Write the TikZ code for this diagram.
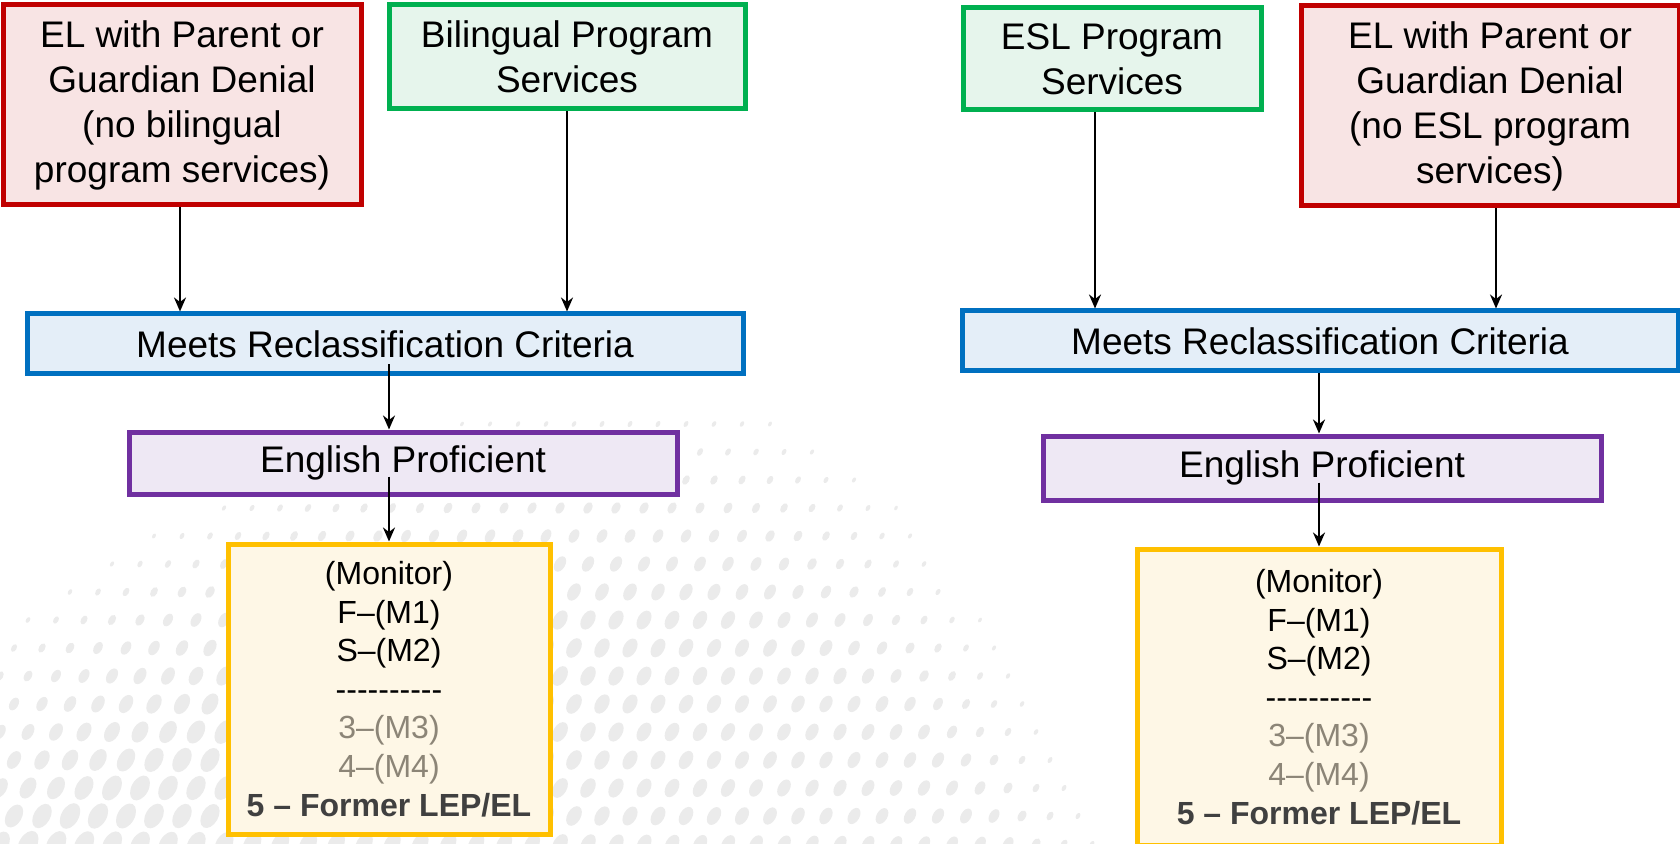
\documentclass[tikz,border=0pt]{standalone}
\usepackage{fontspec}
\setmainfont{Liberation Sans}
\usetikzlibrary{arrows.meta,calc}
\definecolor{redb}{HTML}{C00000}
\definecolor{redf}{HTML}{F8E4E4}
\definecolor{greenb}{HTML}{00B050}
\definecolor{greenf}{HTML}{E6F5EC}
\definecolor{blueb}{HTML}{0070C0}
\definecolor{bluef}{HTML}{E4EEF8}
\definecolor{purpb}{HTML}{7030A0}
\definecolor{purpf}{HTML}{EEE8F4}
\definecolor{goldb}{HTML}{FFC000}
\definecolor{goldf}{HTML}{FEF7E6}
\definecolor{greytxt}{HTML}{8C8577}
\definecolor{darktxt}{HTML}{404040}
\definecolor{dotc}{HTML}{EBEBEB}
\tikzset{
  box/.style={draw, line width=2.5pt, rectangle, inner sep=0pt, align=center,
    font=\fontsize{18.5}{22.5}\selectfont},
  redbox/.style={box, draw=redb, fill=redf},
  greenbox/.style={box, draw=greenb, fill=greenf},
  bluebox/.style={box, draw=blueb, fill=bluef},
  purpbox/.style={box, draw=purpb, fill=purpf},
  goldbox/.style={box, draw=goldb, fill=goldf, font=\fontsize{16}{19.3}\selectfont},
  arr/.style={draw, line width=1.3pt, -{Stealth[length=7pt,width=6pt]}}
}
\newcommand{\monitortext}{(Monitor)\\F–(M1)\\S–(M2)\\-{}-{}-{}-{}-{}-{}-{}-{}-{}-\\{\color{greytxt}3–(M3)}\\{\color{greytxt}4–(M4)}\\{\bfseries\color{darktxt}5 – Former LEP/EL}}
\begin{document}
\begin{tikzpicture}[x=0.5pt,y=-0.5pt]
\useasboundingbox[fill=white] (0,0) rectangle (1680,844);
% decorative halftone background
\foreach \i in {0,...,42} {
  \foreach \j in {0,...,20} {
    \pgfmathsetmacro\xx{\i*28 + mod(\j,2)*14}
    \pgfmathsetmacro\yy{284 + \j*28}
    \pgfmathsetmacro\da{(\xx-700)/44.7}
    \pgfmathsetmacro\db{(\xx-700)/20}
    \pgfmathsetmacro\ytop{\xx < 700 ? 330 + \da*\da : 330 + \db*\db}
    \pgfmathsetmacro\rr{min(9, (\yy-\ytop)/32) * (1 - \xx/2200)}
    \ifdim \rr pt > 1.5pt
      \fill[dotc] (\xx,\yy) ellipse [x radius=0.5*\rr pt, y radius=0.8*\rr pt, rotate=-30];
    \fi
  }
}
% left side
\node[redbox, minimum width=179pt, minimum height=100pt] (lr) at (182,105)
  {EL with Parent or\\Guardian Denial\\(no bilingual\\program services)};
\node[greenbox, minimum width=178pt, minimum height=52pt] (lg) at (567,57)
  {Bilingual Program\\Services};
\node[bluebox, minimum width=358pt, minimum height=30pt] (lm) at (385,344)
  {Meets Reclassification Criteria};
\node[purpbox, minimum width=274pt, minimum height=31pt] (le) at (403,463)
  {English Proficient};
\node[goldbox, minimum width=161pt, minimum height=145pt] (lmon) at (389,689)
  {\monitortext};
% right side
\node[greenbox, minimum width=149pt, minimum height=51pt] (rg) at (1112,59)
  {ESL Program\\Services};
\node[redbox, minimum width=189pt, minimum height=100pt] (rr) at (1490,106)
  {EL with Parent or\\Guardian Denial\\(no ESL program\\services)};
\node[bluebox, minimum width=358pt, minimum height=30pt] (rm) at (1320,341)
  {Meets Reclassification Criteria};
\node[purpbox, minimum width=279pt, minimum height=32pt] (re) at (1322,468)
  {English Proficient};
\node[goldbox, minimum width=182pt, minimum height=148pt] (rmon) at (1319,697)
  {\monitortext};
% arrows
\draw[arr] ([xshift=-1pt]lr.south) -- ([xshift=-1pt]lr.south |- lm.north);
\draw[arr] (lg.south) -- (lg.south |- lm.north);
\draw[arr] ([yshift=6pt]lmon.north |- lm.south) -- (lmon.north |- le.north);
\draw[arr] ([yshift=10pt]lmon.north |- le.south) -- (lmon.north);
\draw[arr] ([xshift=-8.5pt]rg.south) -- ([xshift=-8.5pt]rg.south |- rm.north);
\draw[arr] ([xshift=3pt]rr.south) -- ([xshift=3pt]rr.south |- rm.north);
\draw[arr] (rmon.north |- rm.south) -- (rmon.north |- re.north);
\draw[arr] ([yshift=10pt]rmon.north |- re.south) -- (rmon.north);
\end{tikzpicture}
\end{document}
